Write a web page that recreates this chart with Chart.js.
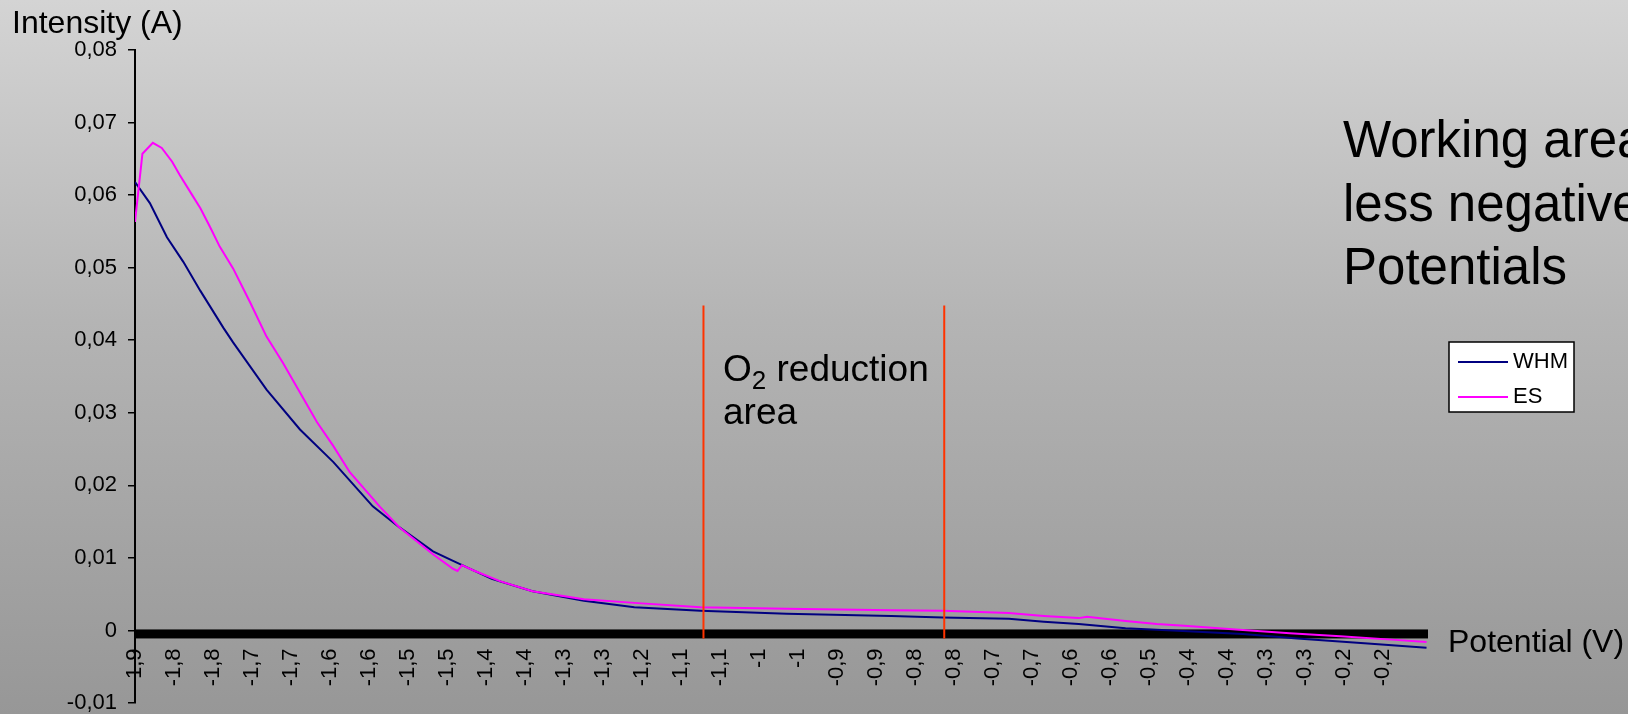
<!DOCTYPE html>
<html>
<head>
<meta charset="utf-8">
<script src="https://cdn.jsdelivr.net/npm/chart.js@4.4.1/dist/chart.umd.min.js"></script>
<style>
    html, body { margin: 0; padding: 0; overflow: hidden; }
    body { width: 1628px; height: 714px; background: linear-gradient(to bottom, #d4d4d4 0%, #b4b4b4 45%, #979797 100%); }
    #wrap { position: relative; width: 1628px; height: 714px; }
</style>
</head>
<body>
<div id="wrap"><canvas id="chart" width="1628" height="714"></canvas></div>
<script>
// Tick labels on the potential axis (as printed, rounded)
const TICK_LABELS = ['-1,9', '-1,8', '-1,8', '-1,7', '-1,7', '-1,6', '-1,6', '-1,5', '-1,5', '-1,4', '-1,4',
    '-1,3', '-1,3', '-1,2', '-1,1', '-1,1', '-1', '-1', '-0,9', '-0,9', '-0,8', '-0,8', '-0,7', '-0,7',
    '-0,6', '-0,6', '-0,5', '-0,4', '-0,4', '-0,3', '-0,3', '-0,2', '-0,2'];
const X_MIN = -1.9;
const X_STEP = 0.0525;
const X_MAX = -0.16;

// WHM series: potential (V) and intensity (A)
const WHM_V = [-1.900, -1.880, -1.857, -1.835, -1.812, -1.781, -1.768, -1.723, -1.678, -1.633, -1.580,
    -1.544, -1.499, -1.472, -1.420, -1.365, -1.296, -1.228, -1.139, -1.023, -0.882, -0.813, -0.724,
    -0.677, -0.630, -0.567, -0.504, -0.409, -0.336, -0.241, -0.162];
const WHM_I = [0.0618, 0.0589, 0.0542, 0.0508, 0.0468, 0.0417, 0.0397, 0.0332, 0.0277, 0.0232, 0.0171,
    0.0142, 0.0109, 0.0096, 0.0071, 0.0054, 0.0041, 0.0032, 0.0027, 0.0023, 0.0020, 0.0018, 0.0016,
    0.0012, 0.0009, 0.0003, 0.0000, -0.0005, -0.0011, -0.0018, -0.0024];

// ES series
const ES_V = [-1.900, -1.890, -1.876, -1.864, -1.850, -1.840, -1.823, -1.812, -1.799, -1.786, -1.768,
    -1.745, -1.723, -1.701, -1.678, -1.655, -1.633, -1.611, -1.570, -1.544, -1.499, -1.472, -1.466,
    -1.460, -1.445, -1.409, -1.365, -1.296, -1.228, -1.139, -1.023, -0.882, -0.813, -0.724, -0.677,
    -0.630, -0.619, -0.567, -0.525, -0.483, -0.414, -0.346, -0.278, -0.204, -0.162];
const ES_I = [0.0563, 0.0657, 0.0672, 0.0665, 0.0646, 0.0628, 0.0600, 0.0582, 0.0556, 0.0529, 0.0499,
    0.0452, 0.0405, 0.0369, 0.0328, 0.0287, 0.0254, 0.0218, 0.0170, 0.0142, 0.0105, 0.0085, 0.0082,
    0.0090, 0.0083, 0.0068, 0.0054, 0.0043, 0.0038, 0.0032, 0.0030, 0.0028, 0.0027, 0.0024, 0.0020,
    0.0017, 0.0019, 0.0013, 0.0009, 0.0006, 0.0001, -0.0004, -0.0008, -0.0013, -0.0016];

// O2 reduction area limits (V) and marker height (A)
const O2_LIMITS = [-1.135, -0.811];
const O2_TOP = 0.0448;
const O2_BOTTOM = -0.0011;

const FONT = '"Liberation Sans", Arial, sans-serif';

function toPoints(xs, ys) {
    return xs.map((x, i) => ({ x: x, y: ys[i] }));
}

const overlay = {
    id: 'overlay',
    beforeDatasetsDraw(chart) {
        // thick category tick band along zero
        const { ctx, chartArea, scales } = chart;
        const y0 = scales.y.getPixelForValue(0);
        ctx.save();
        ctx.fillStyle = '#000';
        ctx.fillRect(chartArea.left, y0 - 1, chartArea.right - chartArea.left, 9);
        ctx.restore();
    },
    afterDraw(chart) {
        const ctx = chart.ctx;
        ctx.save();
        ctx.fillStyle = '#000';
        ctx.textBaseline = 'alphabetic';
        ctx.textAlign = 'left';

        ctx.font = '32px ' + FONT;
        ctx.fillText('Intensity (A)', 12, 33);
        ctx.fillText('Potential (V)', 1448, 652);

        ctx.font = '51px ' + FONT;
        ctx.fillText('Working area at', 1343, 157);
        ctx.fillText('less negative', 1343, 221);
        ctx.fillText('Potentials', 1343, 284);

        // O2 reduction area label
        let x = 723;
        ctx.font = '37px ' + FONT;
        ctx.fillText('O', x, 381);
        x += ctx.measureText('O').width;
        ctx.font = '26px ' + FONT;
        ctx.fillText('2', x, 389);
        x += ctx.measureText('2').width;
        ctx.font = '37px ' + FONT;
        ctx.fillText(' reduction', x, 381);
        ctx.fillText('area', 723, 424);

        // legend
        ctx.fillStyle = '#fff';
        ctx.fillRect(1449, 342, 125, 70);
        ctx.strokeStyle = '#000';
        ctx.lineWidth = 1.5;
        ctx.strokeRect(1449, 342, 125, 70);
        const items = chart.data.datasets.filter(d => d.inLegend);
        items.forEach((d, i) => {
            const ly = 362 + i * 35;
            ctx.strokeStyle = d.borderColor;
            ctx.lineWidth = 2;
            ctx.beginPath();
            ctx.moveTo(1458, ly);
            ctx.lineTo(1508, ly);
            ctx.stroke();
            ctx.fillStyle = '#000';
            ctx.font = '22px ' + FONT;
            ctx.fillText(d.label, 1513, ly + 6);
        });
        ctx.restore();
    }
};

const datasets = [
    {
        label: 'WHM',
        inLegend: true,
        data: toPoints(WHM_V, WHM_I),
        borderColor: '#000080',
        borderWidth: 2,
        order: 2
    },
    {
        label: 'ES',
        inLegend: true,
        data: toPoints(ES_V, ES_I),
        borderColor: '#ff00ff',
        borderWidth: 2,
        order: 1
    }
];
O2_LIMITS.forEach(v => {
    datasets.push({
        label: 'O2 limit',
        data: [{ x: v, y: O2_TOP }, { x: v, y: O2_BOTTOM }],
        borderColor: '#ff3300',
        borderWidth: 2,
        order: 0
    });
});

new Chart(document.getElementById('chart'), {
    type: 'line',
    data: { datasets: datasets },
    options: {
        responsive: false,
        animation: false,
        devicePixelRatio: 1,
        elements: { point: { radius: 0 }, line: { tension: 0 } },
        layout: { padding: { left: 0, top: 50, right: 200, bottom: 11 } },
        plugins: { legend: { display: false }, tooltip: { enabled: false } },
        scales: {
            x: {
                type: 'linear',
                position: { y: 0 },
                min: X_MIN,
                max: X_MAX,
                afterBuildTicks: (scale) => {
                    scale.ticks = TICK_LABELS.map((_, i) => ({ value: X_MIN + i * X_STEP }));
                },
                ticks: {
                    autoSkip: false,
                    minRotation: 90,
                    maxRotation: 90,
                    padding: 10,
                    color: '#000',
                    font: { family: FONT, size: 22 },
                    callback: (v, i) => TICK_LABELS[i]
                },
                grid: { display: false },
                border: { display: false }
            },
            y: {
                min: -0.01,
                max: 0.08,
                afterFit: (scale) => {
                    scale.width = 135;
                    scale.paddingTop = 0;
                    scale.paddingBottom = 0;
                },
                ticks: {
                    stepSize: 0.01,
                    padding: 11,
                    color: '#000',
                    font: { family: FONT, size: 22 },
                    callback: (v) => {
                        const r = Math.round(v * 100) / 100;
                        return r === 0 ? '0' : r.toFixed(2).replace('.', ',');
                    }
                },
                grid: { drawOnChartArea: false, tickLength: 7, color: '#000', lineWidth: 1.5 },
                border: { color: '#000', width: 2 }
            }
        }
    },
    plugins: [overlay]
});
</script>
</body>
</html>
